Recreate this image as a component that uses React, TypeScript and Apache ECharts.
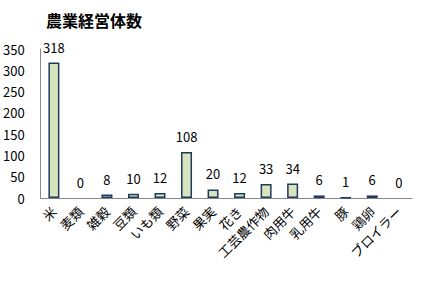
import React, { useEffect, useRef } from "react";
import * as echarts from "echarts";

const categories = ["米", "麦類", "雑穀", "豆類", "いも類", "野菜", "果実", "花き", "工芸農作物", "肉用牛", "乳用牛", "豚", "鶏卵", "ブロイラー"];
const values = [318, 0, 8, 10, 12, 108, 20, 12, 33, 34, 6, 1, 6, 0];
const yTicks = { min: 0, max: 350, interval: 50 };
const title = "農業経営体数";

const FONT = "'Noto Sans CJK JP', 'Noto Sans', sans-serif";

export default function App() {
  const ref = useRef<HTMLDivElement>(null);
  useEffect(() => {
    if (!ref.current) return;
    const chart = echarts.init(ref.current, null, { renderer: "svg" });
    chart.setOption({
      animation: false,
      backgroundColor: "#ffffff",
      title: {
        text: title,
        left: 41,
        top: 7,
        textStyle: { fontFamily: FONT, fontSize: 16, fontWeight: "bold", color: "#000" },
      },
      grid: { left: 40, right: 9, top: 49, bottom: 83 },
      xAxis: {
        type: "category",
        data: categories,
        axisLine: { show: true, lineStyle: { color: "#888888", width: 1 } },
        axisTick: { show: false },
        axisLabel: {
          rotate: 45,
          interval: 0,
          margin: 11,
          color: "#000",
          fontFamily: FONT,
          fontSize: 13,
        },
      },
      yAxis: {
        type: "value",
        min: yTicks.min,
        max: yTicks.max,
        interval: yTicks.interval,
        axisLine: { show: true, lineStyle: { color: "#888888", width: 1 } },
        axisTick: { show: false },
        splitLine: { show: false },
        axisLabel: { color: "#000", fontFamily: FONT, fontSize: 13, margin: 16 },
      },
      series: [
        {
          type: "bar",
          data: values.map((v) =>
            v === 0 ? { value: v, itemStyle: { borderWidth: 0, color: "transparent" } } : v
          ),
          barWidth: 11,
          itemStyle: { color: "#d7e4bd", borderColor: "#1f3a60", borderWidth: 1.5 },
          label: {
            show: true,
            position: "top",
            distance: 9,
            color: "#000",
            fontFamily: FONT,
            fontSize: 13,
          },
        },
      ],
    });
    return () => chart.dispose();
  }, []);
  return <div ref={ref} style={{ width: 421, height: 281, position: "absolute", left: 0, top: 0 }} />;
}
